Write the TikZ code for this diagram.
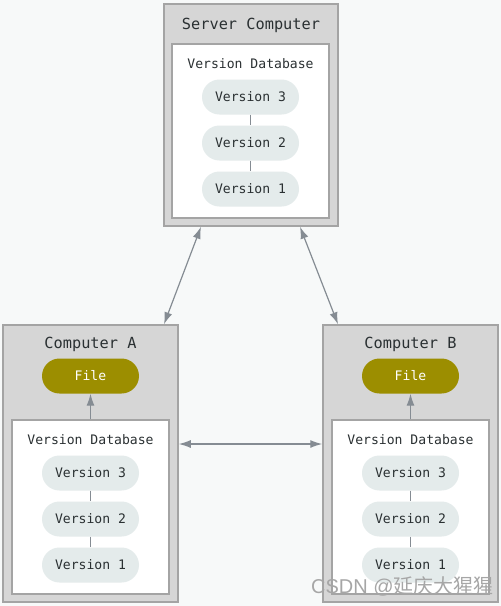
\documentclass[tikz,border=0pt]{standalone}
\usepackage{fontspec}
\setmonofont{DejaVu Sans Mono}
\newfontfamily\cjkfont{Noto Sans CJK SC}
\newfontfamily\wmfont{Liberation Sans}
\usetikzlibrary{arrows.meta}
\definecolor{bgc}{HTML}{F7F9F9}
\definecolor{boxfill}{HTML}{D6D6D6}
\definecolor{boxline}{HTML}{A4A4A4}
\definecolor{pillfill}{HTML}{E4EBEB}
\definecolor{filefill}{HTML}{9C8E00}
\definecolor{txt}{HTML}{2A3032}
\definecolor{arrc}{HTML}{858C93}
\tikzset{
  outerbox/.style={draw=boxline, line width=1.5pt, fill=boxfill, inner sep=0pt},
  innerbox/.style={draw=boxline, line width=1.5pt, fill=white, inner sep=0pt, minimum width=157pt, minimum height=174pt},
  title/.style={text=txt, font=\ttfamily\fontsize{15.3}{17}\selectfont, inner sep=0pt},
  dbtitle/.style={text=txt, font=\ttfamily\fontsize{13.1}{15}\selectfont, inner sep=0pt},
  pill/.style={fill=pillfill, rounded corners=17.5pt, minimum width=97pt, minimum height=35pt, inner sep=0pt, text=txt, font=\ttfamily\fontsize{13.1}{15}\selectfont},
  filepill/.style={pill, fill=filefill, text=white},
  link/.style={draw=arrc, line width=1pt},
  arr/.style={draw=arrc, line width=1.2pt, {Latex[length=12pt,width=8pt]}-{Latex[length=12pt,width=8pt]}},
  uparr/.style={draw=arrc, line width=1.2pt, -{Latex[length=12pt,width=8pt]}}
}
\begin{document}
\begin{tikzpicture}[x=1pt,y=-1pt]
\useasboundingbox (0,0) rectangle (501,606);
\fill[bgc] (0,0) rectangle (501,606);

% Server
\node[outerbox, minimum width=174pt, minimum height=222pt] (sout) at (251,115) {};
\node[innerbox] (sin) at (250.5,131) {};
\node[title] (stitle) at (251,25.5) {Server Computer};
\node[dbtitle] (sdb) at (250.5,63.5) {Version Database};
\node[pill] (s3) at (250.5,97) {Version 3};
\node[pill] (s2) at (250.5,143) {Version 2};
\node[pill] (s1) at (250.5,189) {Version 1};
\draw[link] (s3) -- (s2);
\draw[link] (s2) -- (s1);

% Computer A
\node[outerbox, minimum width=175pt, minimum height=277pt] (aout) at (90.5,463.5) {};
\node[innerbox] (ain) at (90.5,507) {};
\node[title] (atitle) at (90.5,344.5) {Computer A};
\node[filepill] (afile) at (90.5,376) {File};
\node[dbtitle] (adb) at (90.5,439.5) {Version Database};
\node[pill] (a3) at (90.5,473) {Version 3};
\node[pill] (a2) at (90.5,519) {Version 2};
\node[pill] (a1) at (90.5,565) {Version 1};
\draw[link] (a3) -- (a2);
\draw[link] (a2) -- (a1);
\draw[uparr] (ain.north) -- (afile.south);

% Computer B
\node[outerbox, minimum width=175pt, minimum height=277pt] (bout) at (410.5,463.5) {};
\node[innerbox] (bin) at (410.5,507) {};
\node[title] (btitle) at (410.5,344.5) {Computer B};
\node[filepill] (bfile) at (410.5,376) {File};
\node[dbtitle] (bdb) at (410.5,439.5) {Version Database};
\node[pill] (b3) at (410.5,473) {Version 3};
\node[pill] (b2) at (410.5,519) {Version 2};
\node[pill] (b1) at (410.5,565) {Version 1};
\draw[link] (b3) -- (b2);
\draw[link] (b2) -- (b1);
\draw[uparr] (bin.north) -- (bfile.south);

% connectors
\draw[arr] ([yshift=19.5pt]aout.east) -- ([yshift=19.5pt]bout.west);
\draw[arr] ([xshift=-50pt]sout.south) -- ([xshift=73.5pt]aout.north);
\draw[arr] ([xshift=49pt]sout.south) -- ([xshift=-72.5pt]bout.north);

% watermark
\node[text=gray!70, inner sep=0pt, anchor=west, font=\fontsize{20}{22}\selectfont] (wm) at (311,586) {\wmfont CSDN @\cjkfont 延庆大猩猩};
\end{tikzpicture}
\end{document}
